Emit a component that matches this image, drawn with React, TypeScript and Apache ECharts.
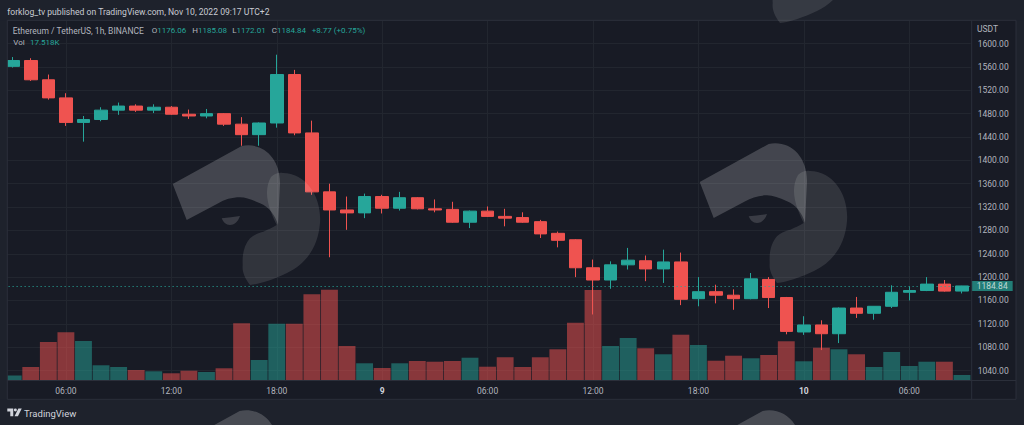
import React, { useEffect, useRef } from 'react';
import * as echarts from 'echarts';

// ---- data ----
const categories = [
  '8 03:00', '8 04:00', '8 05:00', '8 06:00', '8 07:00', '8 08:00', '8 09:00', '8 10:00', '8 11:00', '8 12:00',
  '8 13:00', '8 14:00', '8 15:00', '8 16:00', '8 17:00', '8 18:00', '8 19:00', '8 20:00', '8 21:00', '8 22:00', '8 23:00',
  '9 00:00', '9 01:00', '9 02:00', '9 03:00', '9 04:00', '9 05:00', '9 06:00', '9 07:00', '9 08:00', '9 09:00',
  '9 10:00', '9 11:00', '9 12:00', '9 13:00', '9 14:00', '9 15:00', '9 16:00', '9 17:00', '9 18:00', '9 19:00',
  '9 20:00', '9 21:00', '9 22:00', '9 23:00',
  '10 00:00', '10 01:00', '10 02:00', '10 03:00', '10 04:00', '10 05:00', '10 06:00', '10 07:00', '10 08:00', '10 09:00',
];
const opens = [1561, 1571, 1538, 1507, 1465, 1470, 1486, 1493, 1486, 1491, 1479, 1476, 1480, 1462, 1444, 1464, 1547, 1447, 1346, 1315, 1310, 1338, 1318, 1336, 1317, 1316, 1294, 1313, 1304, 1302, 1295, 1275, 1264, 1216, 1195, 1221, 1228, 1214, 1226, 1163, 1175, 1169, 1163, 1196, 1165, 1106, 1118, 1103, 1147, 1138, 1150, 1174, 1177, 1188, 1176.06];
const closes = [1571, 1538, 1507, 1465, 1470, 1486, 1493, 1486, 1491, 1479, 1476, 1480, 1462, 1444, 1464, 1547, 1447, 1346, 1315, 1310, 1338, 1318, 1336, 1317, 1315, 1294, 1313, 1304, 1301, 1294, 1274, 1263, 1216, 1195, 1221, 1229, 1214, 1226, 1162, 1175, 1169, 1163, 1197, 1165, 1107, 1118, 1103, 1147, 1138, 1150, 1174, 1177, 1188, 1176, 1184.84];
const lows = [1559, 1536, 1504, 1459, 1432, 1467, 1478, 1483, 1481, 1478, 1471, 1472, 1459, 1425, 1425, 1456, 1443, 1341, 1234, 1281, 1301, 1309, 1314, 1316, 1311, 1293, 1284, 1303, 1287, 1293, 1267, 1251, 1200, 1136, 1180, 1213, 1193, 1190, 1152, 1150, 1155, 1144, 1162, 1147, 1102, 1101, 1075, 1087, 1130, 1127, 1147, 1160, 1176, 1175, 1172.01];
const highs = [1577, 1575, 1547, 1515, 1476, 1491, 1499, 1496, 1496, 1493, 1487, 1488, 1481, 1474, 1465, 1581, 1555, 1468, 1360, 1338, 1343, 1341, 1346, 1337, 1333, 1329, 1314, 1321, 1317, 1311, 1298, 1278, 1265, 1230, 1227, 1250, 1237, 1247, 1242, 1200, 1187, 1179, 1207, 1200, 1166, 1133, 1126, 1148, 1166, 1150, 1186, 1184, 1200, 1195, 1185.08];
// volume in thousands (K)
const volumes = [16, 45.5, 133, 167, 136.5, 51.5, 45.5, 35, 30.5, 23.5, 32.5, 28, 41, 198.5, 70, 197, 197, 300, 316, 119, 58.5, 42, 58.5, 66.5, 64, 66.5, 78, 46.5, 79.5, 45.5, 79.5, 107.5, 200.5, 315, 119, 147, 111, 90, 158.5, 122.5, 67.5, 85, 76, 87.5, 135.5, 65.5, 113, 107.5, 90, 45.5, 98, 49, 64, 64, 17.518];
const tickTimes = ['00:00', '06:00', '12:00', '18:00'];
const lastPrice = 1184.84;
const headerText = 'forklog_tv published on TradingView.com, Nov 10, 2022 09:17 UTC+2';
const symbolText = 'Ethereum / TetherUS, 1h, BINANCE';
const ohlcLegend = [
  ['O', '1176.06'],
  ['H', '1185.08'],
  ['L', '1172.01'],
  ['C', '1184.84'],
];
const changeText = '+8.77 (+0.75%)';
const volText = '17.518K';

// ---- styles ----
const UP = '#26a69a';
const DOWN = '#ef5350';
const VOL_UP = 'rgba(38,166,154,0.5)';
const VOL_DOWN = 'rgba(239,83,80,0.52)';
const OUTER_BG = '#1e222c';
const PANEL_BG = '#181b25';
const GRID = '#22262f';
const BORDER = '#2b2f3a';
const TXT = '#b2b5be';
const FONT = 'Roboto, sans-serif';

// ---- shapes ----
const FLAG_D = 'M 0.7 39 L 69.7 1 C 90 -3 108 12 108 38 L 106 80 C 103 70 97 62 88 58.3 C 80 54.5 74 52.5 68 52.3 C 60 52.3 52 54.5 46.3 58.3 L 14.7 75 Z';
const ROUND_D = 'M 104.7 80 C 98 66 90 48 99 32 C 103 28 107 27.5 111 28 C 134 28 150 52 148 78 C 146 104 132 120 115 128 C 100 135 88 139 78 140 C 72 132 70 126 70.7 120 C 70 110 72 100 78 93.3 C 83 89 88 87.5 91.3 86.7 C 96 84.5 101 82.5 104.7 80 Z';
const EYE_D = 'M 49.7 73.3 C 56 72.5 62 72 68 71 C 66 77 62 80 58 80 C 54 80 51 77 49.7 73.3 Z';
const TV_D = 'M 0 0 H 7 V 9 H 3.5 V 3.5 H 0 Z M 11.25 1.75 A 1.75 1.75 0 1 1 7.75 1.75 A 1.75 1.75 0 1 1 11.25 1.75 Z M 13 0 H 17 L 12.5 9 H 8.5 Z';

echarts.graphic.registerShape('wmFlag', echarts.graphic.extendPath(FLAG_D, {}));
echarts.graphic.registerShape('wmRound', echarts.graphic.extendPath(ROUND_D, {}));
echarts.graphic.registerShape('wmEye', echarts.graphic.extendPath(EYE_D, {}));
echarts.graphic.registerShape('tvLogo', echarts.graphic.extendPath(TV_D, {}));

function watermark(ox: number, oy: number) {
  return [
    { type: 'wmRound', x: ox, y: oy, z: 40, silent: true, style: { fill: 'rgba(255,255,255,0.11)' } },
    { type: 'wmFlag', x: ox, y: oy, z: 41, silent: true, style: { fill: 'rgba(255,255,255,0.19)' } },
    { type: 'wmEye', x: ox, y: oy, z: 41, silent: true, style: { fill: 'rgba(255,255,255,0.15)' } },
  ];
}

function txt(x: number, y: number, text: string, fill: string, fontSize: number, extra: any = {}) {
  return {
    type: 'text', x, y, z: 60, silent: true,
    style: { text, fill, fontSize, fontFamily: FONT, verticalAlign: 'middle', align: 'left', ...extra },
  };
}

function buildOption() {
  const band = 17.57;
  const firstCenter = 13.2;
  const gridLeft = firstCenter - band / 2;
  const gridWidth = band * categories.length;
  const tickIdx: number[] = [];
  categories.forEach((c, i) => {
    if (tickTimes.includes(c.split(' ')[1])) tickIdx.push(i);
  });

  const legendEls: any[] = [];
  legendEls.push(txt(12.7, 30.5, symbolText, TXT, 8.5));
  const ohlcX = [151.7, 192.3, 232.3, 271.7];
  ohlcLegend.forEach(([k, v], i) => {
    legendEls.push({
      type: 'text', x: ohlcX[i], y: 30.5, z: 60, silent: true,
      style: {
        text: `{k|${k}}{v|${v}}`, fontSize: 8, fontFamily: FONT, verticalAlign: 'middle',
        rich: { k: { fill: TXT, fontSize: 8, fontFamily: FONT }, v: { fill: UP, fontSize: 8, fontFamily: FONT } },
      },
    });
  });
  legendEls.push(txt(311.7, 30.5, changeText, UP, 8));
  legendEls.push(txt(13.3, 42.5, 'Vol', TXT, 8));
  legendEls.push(txt(30, 42.5, volText, UP, 8));

  return {
    animation: false,
    backgroundColor: OUTER_BG,
    textStyle: { fontFamily: FONT },
    grid: [
      { left: gridLeft, width: gridWidth, top: 20.25, height: 350.25 },
      { left: gridLeft, width: gridWidth, top: 20.5, height: 359.5 },
    ],
    xAxis: [
      {
        type: 'category', gridIndex: 0, data: categories, boundaryGap: true,
        axisLine: { show: false }, axisTick: { show: false }, axisLabel: { show: false }, splitLine: { show: false },
      },
      {
        type: 'category', gridIndex: 1, data: categories, boundaryGap: true,
        axisLine: { show: false }, axisTick: { show: false }, splitLine: { show: false },
        axisLabel: {
          show: true,
          interval: (i: number, v: string) => tickTimes.includes(v.split(' ')[1]),
          formatter: (v: string) => {
            const [d, t] = v.split(' ');
            return t === '00:00' ? `{d|${d}}` : t;
          },
          color: TXT, fontSize: 8.5, margin: 6, fontFamily: FONT,
          rich: { d: { color: '#d1d4dc', fontWeight: 'bold', fontSize: 8.5, fontFamily: FONT } },
        },
      },
    ],
    yAxis: [
      {
        type: 'value', gridIndex: 0, position: 'right', min: 1040, max: 1640, interval: 40,
        axisLine: { show: false }, axisTick: { show: false },
        splitLine: { show: true, lineStyle: { color: GRID, width: 1 } },
        axisLabel: {
          color: TXT, fontSize: 8.5, margin: 7, fontFamily: FONT,
          formatter: (v: number) => (v >= 1640 ? '' : v.toFixed(2)),
        },
      },
      { type: 'value', gridIndex: 1, min: 0, max: 1258, show: false },
    ],
    series: [
      {
        type: 'bar', xAxisIndex: 1, yAxisIndex: 1, z: 2,
        barCategoryGap: '4%',
        data: volumes.map((v, i) => ({ value: v, itemStyle: { color: closes[i] >= opens[i] ? VOL_UP : VOL_DOWN } })),
        markLine: {
          silent: true, z: 1, symbol: ['none', 'none'], label: { show: false },
          lineStyle: { color: GRID, type: 'solid', width: 1 },
          emphasis: { disabled: true },
          data: tickIdx.map((i) => ({ xAxis: i })),
        },
      },
      {
        type: 'candlestick', xAxisIndex: 0, yAxisIndex: 0, z: 3,
        barWidth: 13,
        data: categories.map((_, i) => [opens[i], closes[i], lows[i], highs[i]]),
        itemStyle: { color: UP, color0: DOWN, borderColor: UP, borderColor0: DOWN, borderWidth: 1 },
        markLine: {
          silent: true, symbol: ['none', 'none'],
          lineStyle: { color: UP, type: [1.5, 2.5], width: 1, opacity: 0.7 },
          emphasis: { disabled: true },
          label: {
            show: true, position: 'end', distance: 1,
            formatter: () => lastPrice.toFixed(2),
            color: '#ffffff', backgroundColor: UP, fontSize: 8.5, lineHeight: 9,
            padding: [1, 5, 0, 5], fontFamily: FONT,
          },
          data: [{ yAxis: lastPrice }],
        },
      },
    ],
    graphic: {
      elements: [
        { type: 'rect', z: -10, silent: true, shape: { x: 7.3, y: 20.3, width: 1008.7, height: 379 }, style: { fill: PANEL_BG } },
        ...watermark(172, 145),
        ...watermark(699, 143),
        { type: 'rect', z: 50, silent: true, shape: { x: 0, y: 0, width: 7.3, height: 425 }, style: { fill: OUTER_BG } },
        { type: 'rect', z: 50, silent: true, shape: { x: 0, y: 0, width: 1024, height: 20.3 }, style: { fill: OUTER_BG } },
        { type: 'rect', z: 50, silent: true, shape: { x: 0, y: 399.3, width: 1024, height: 26 }, style: { fill: OUTER_BG } },
        ...watermark(702, -117).map((e) => ({ ...e, z: e.z + 20 })),
        ...watermark(170, 410).map((e) => ({ ...e, z: e.z + 20 })),
        ...watermark(693, 410).map((e) => ({ ...e, z: e.z + 20 })),
        { type: 'rect', z: 55, silent: true, shape: { x: 7.3, y: 20.3, width: 1008.7, height: 379 }, style: { fill: 'none', stroke: BORDER, lineWidth: 1 } },
        { type: 'line', z: 55, silent: true, shape: { x1: 971.7, y1: 20.3, x2: 971.7, y2: 399.3 }, style: { stroke: BORDER, lineWidth: 1 } },
        { type: 'line', z: 55, silent: true, shape: { x1: 7.3, y1: 380.5, x2: 1016, y2: 380.5 }, style: { stroke: BORDER, lineWidth: 1 } },
        txt(7.3, 11.5, headerText, '#c8cbd2', 8.6),
        ...legendEls,
        txt(977, 28.5, 'USDT', TXT, 8.5),
        { type: 'tvLogo', x: 7.3, y: 408.5, scaleX: 0.85, scaleY: 0.85, z: 60, silent: true, style: { fill: '#d1d4dc' } },
        txt(24, 413, 'TradingView', '#d1d4dc', 9.5),
      ],
    },
  };
}

export default function App() {
  const ref = useRef<HTMLDivElement>(null);
  useEffect(() => {
    if (!ref.current) return;
    const chart = echarts.init(ref.current, null, { renderer: 'svg' });
    chart.setOption(buildOption() as any);
    return () => chart.dispose();
  }, []);
  return <div ref={ref} style={{ position: 'fixed', left: 0, top: 0, width: 1024, height: 425 }} />;
}
